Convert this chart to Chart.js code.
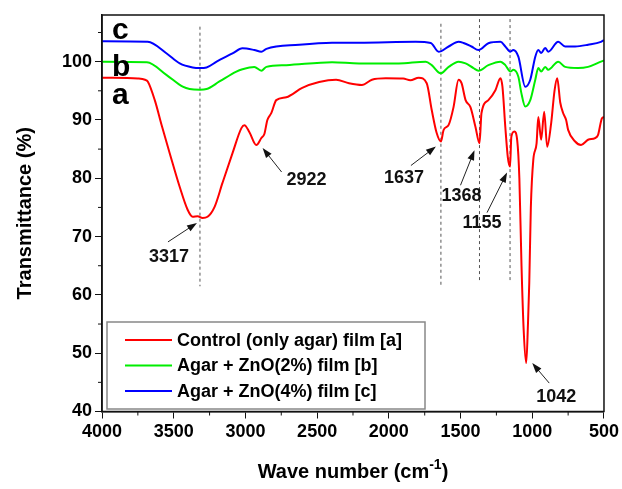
<!DOCTYPE html>
<html>
<head>
<meta charset="utf-8">
<script src="https://cdn.jsdelivr.net/npm/chart.js@4.4.1/dist/chart.umd.min.js"></script>
<style>
  html, body { margin: 0; padding: 0; background: #fff; }
  #wrap { width: 622px; height: 489px; position: relative; }
</style>
</head>
<body>
<div id="wrap"><canvas id="ftir"></canvas></div>
<script>
// wave numbers (cm-1) and transmittance (%)
const waveA = [4000, 3750, 3700, 3681, 3632, 3583, 3528, 3458, 3403, 3368, 3333, 3299, 3264, 3215, 3160, 3090, 3028, 3007, 2972, 2924, 2889, 2868, 2847, 2819, 2785, 2715, 2604, 2486, 2368, 2278, 2188, 2118, 2021, 1900, 1850, 1792, 1736, 1701, 1667, 1637, 1618, 1583, 1549, 1514, 1493, 1465, 1431, 1396, 1368, 1354, 1306, 1257, 1222, 1208, 1188, 1170, 1155, 1146, 1125, 1105, 1090, 1075, 1060, 1042, 1030, 1021, 1010, 993, 970, 958, 938, 917, 896, 868, 845, 826, 805, 785, 764, 750, 701, 660, 611, 562, 542, 514, 500];
const transA = [97.25, 97.1, 96.9, 96.6, 93.4, 89.0, 84.3, 78.5, 74.6, 73.4, 73.5, 73.2, 73.4, 75.1, 79.2, 84.3, 88.6, 89.1, 87.9, 85.7, 86.9, 87.6, 90.0, 91.2, 93.4, 93.9, 95.5, 96.5, 96.9, 96.3, 96.0, 96.9, 97.15, 97.1, 96.8, 97.25, 96.3, 91.7, 87.8, 86.3, 88.3, 89.15, 92.2, 96.9, 96.3, 93.4, 92.2, 88.8, 86.0, 91.2, 93.4, 95.1, 97.15, 95.7, 88.8, 83.5, 82.0, 87.1, 88.0, 86.5, 80.0, 65.0, 54.0, 48.3, 55.0, 62.0, 75.0, 83.1, 86.0, 90.5, 86.6, 91.4, 85.4, 89.5, 95.0, 97.15, 93.0, 91.2, 90.0, 88.3, 86.3, 85.7, 86.6, 86.9, 87.4, 90.3, 90.5];

const waveB = [4000, 3687, 3549, 3437, 3389, 3317, 3271, 3181, 3063, 3021, 2938, 2889, 2854, 2715, 2396, 2208, 1931, 1743, 1701, 1639, 1583, 1514, 1465, 1410, 1375, 1306, 1222, 1188, 1153, 1132, 1097, 1076, 1049, 1014, 979, 958, 938, 910, 889, 819, 771, 681, 611, 521, 500];
const transB = [100.0, 99.9, 97.7, 95.7, 95.3, 95.2, 95.3, 96.6, 98.3, 98.7, 99.1, 98.45, 99.1, 99.4, 99.9, 99.7, 99.7, 100.0, 99.4, 98.0, 99.1, 100.0, 99.7, 98.9, 98.45, 99.4, 100.0, 99.4, 98.3, 98.6, 97.4, 94.6, 92.3, 93.4, 96.9, 98.9, 98.3, 99.1, 98.6, 100.0, 99.1, 98.9, 99.1, 100.0, 100.2];

const waveC = [4000, 3681, 3549, 3458, 3368, 3317, 3271, 3201, 3090, 3021, 2938, 2889, 2854, 2625, 2396, 2208, 1813, 1708, 1653, 1583, 1514, 1479, 1424, 1375, 1306, 1222, 1188, 1153, 1132, 1097, 1049, 1014, 979, 958, 938, 910, 889, 819, 771, 701, 611, 521, 500];
const transC = [103.5, 103.4, 101.4, 99.7, 99.0, 98.9, 99.0, 100.0, 101.4, 102.3, 102.0, 101.7, 102.2, 102.9, 103.25, 103.25, 103.4, 103.2, 101.7, 102.6, 103.4, 103.2, 102.6, 102.0, 103.15, 103.4, 102.6, 101.7, 102.0, 100.85, 95.7, 96.9, 100.85, 102.0, 101.5, 102.35, 101.7, 103.4, 102.6, 102.6, 102.9, 103.4, 103.7];

const seriesLabels = ["Control (only agar) film [a]", "Agar + ZnO(2%) film [b]", "Agar + ZnO(4%) film [c]"];
const seriesColors = ["#ff0000", "#00ee00", "#0000ff"];
const curveLetters = ["a", "b", "c"];

// marked peaks: wave number and transmittance of the red curve there
const peakWave = [3317, 2922, 1637, 1368, 1155, 1042];
const peakTrans = [73.2, 85.7, 86.3, 86.0, 82.0, 48.3];
// dashed guide lines
const guideWave = [3317, 1637, 1368, 1155];
const guideTop = [106, 106.5, 107.3, 107.3];
const guideBottom = [61.5, 61.5, 62.2, 62.2];

const xTicks = [4000, 3500, 3000, 2500, 2000, 1500, 1000, 500];
const yTicks = [40, 50, 60, 70, 80, 90, 100];

const FONT = "'Liberation Sans', Arial, sans-serif";

function toPoints(xs, ys) {
    return xs.map((x, i) => ({ x: x, y: ys[i] }));
}

const datasets = [
    { data: toPoints(waveA, transA) },
    { data: toPoints(waveB, transB) },
    { data: toPoints(waveC, transC) }
].map((d, i) => Object.assign(d, {
    label: seriesLabels[i],
    borderColor: seriesColors[i],
    borderWidth: 2,
    pointRadius: 0,
    cubicInterpolationMode: 'monotone',
    fill: false
}));

guideWave.forEach((w, i) => {
    datasets.push({
        label: 'guide' + w,
        data: [{ x: w, y: guideTop[i] }, { x: w, y: guideBottom[i] }],
        borderColor: '#555',
        borderWidth: 1,
        borderDash: [3, 3],
        pointRadius: 0,
        fill: false
    });
});

// label offsets (px) from each peak: arrow tip, arrow tail, text centre
const annoLayout = [
    { tip: [-3, 5], tail: [-32, 24], text: [-31, 39] },
    { tip: [6, 3], tail: [25, 27], text: [50, 35] },
    { tip: [-5, 5], tail: [-30, 24], text: [-37, 37] },
    { tip: [-5, 7], tail: [-19, 42], text: [-18, 53] },
    { tip: [-3, 6], tail: [-23, 46], text: [-28, 56] },
    { tip: [6, 0], tail: [23, 20], text: [30, 34] }
];

function arrow(ctx, x1, y1, x2, y2) {
    const a = Math.atan2(y2 - y1, x2 - x1);
    ctx.beginPath();
    ctx.moveTo(x1, y1);
    ctx.lineTo(x2 - 6 * Math.cos(a), y2 - 6 * Math.sin(a));
    ctx.stroke();
    ctx.beginPath();
    ctx.moveTo(x2, y2);
    ctx.lineTo(x2 - 10 * Math.cos(a) + 3.5 * Math.sin(a), y2 - 10 * Math.sin(a) - 3.5 * Math.cos(a));
    ctx.lineTo(x2 - 10 * Math.cos(a) - 3.5 * Math.sin(a), y2 - 10 * Math.sin(a) + 3.5 * Math.cos(a));
    ctx.closePath();
    ctx.fill();
}

const decor = {
    id: 'decor',
    afterDraw(chart) {
        const ctx = chart.ctx;
        const area = chart.chartArea;
        const xs = chart.scales.x, ys = chart.scales.y;
        ctx.save();

        // frame
        ctx.strokeStyle = '#111';
        ctx.lineWidth = 1.5;
        ctx.strokeRect(area.left, area.top, area.right - area.left, area.bottom - area.top);

        // minor ticks
        ctx.lineWidth = 1;
        ctx.beginPath();
        for (let v = 45; v <= 105; v += 10) {
            const py = ys.getPixelForValue(v);
            ctx.moveTo(area.left - 4, py);
            ctx.lineTo(area.left, py);
        }
        for (let v = 3750; v > 500; v -= 500) {
            const px = xs.getPixelForValue(v);
            ctx.moveTo(px, area.bottom);
            ctx.lineTo(px, area.bottom + 4);
        }
        ctx.stroke();

        // peak annotations
        ctx.fillStyle = '#111';
        ctx.strokeStyle = '#222';
        ctx.lineWidth = 1;
        ctx.font = 'bold 18px ' + FONT;
        ctx.textAlign = 'center';
        ctx.textBaseline = 'middle';
        peakWave.forEach((w, i) => {
            const px = xs.getPixelForValue(w);
            const py = ys.getPixelForValue(peakTrans[i]);
            const l = annoLayout[i];
            arrow(ctx, px + l.tail[0], py + l.tail[1], px + l.tip[0], py + l.tip[1]);
            ctx.fillText(String(w), px + l.text[0], py + l.text[1]);
        });

        // curve letters
        ctx.font = 'bold 30px ' + FONT;
        ctx.textAlign = 'left';
        ctx.textBaseline = 'alphabetic';
        ctx.fillStyle = '#000';
        const letterBase = [transA[0], transB[0], transC[0]];
        curveLetters.forEach((c, i) => {
            const py = ys.getPixelForValue(letterBase[i]);
            const dy = i === 0 ? 26 : (i === 1 ? 14 : -2);
            ctx.fillText(c, area.left + 10, py + dy);
        });

        // legend box
        const lx = area.left + 5, lw = 318, lh = 87;
        const ly = area.bottom - lh - 2.5;
        ctx.fillStyle = '#fff';
        ctx.fillRect(lx, ly, lw, lh);
        ctx.strokeStyle = '#888';
        ctx.lineWidth = 1.5;
        ctx.strokeRect(lx, ly, lw, lh);
        ctx.font = 'bold 18px ' + FONT;
        ctx.textBaseline = 'middle';
        seriesLabels.forEach((lab, i) => {
            const yy = ly + 18 + i * 25.5;
            ctx.strokeStyle = seriesColors[i];
            ctx.lineWidth = 2;
            ctx.beginPath();
            ctx.moveTo(lx + 18, yy);
            ctx.lineTo(lx + 65, yy);
            ctx.stroke();
            ctx.fillStyle = '#000';
            ctx.fillText(lab, lx + 70, yy + 1);
        });

        // axis titles
        ctx.fillStyle = '#000';
        ctx.font = 'bold 20px ' + FONT;
        ctx.textAlign = 'center';
        ctx.textBaseline = 'middle';
        ctx.save();
        ctx.translate(25, (area.top + area.bottom) / 2);
        ctx.rotate(-Math.PI / 2);
        ctx.fillText('Transmittance (%)', 0, 0);
        ctx.restore();

        const main = 'Wave number (cm', sup = '-1', close = ')';
        ctx.font = 'bold 20px ' + FONT;
        const w1 = ctx.measureText(main).width, w3 = ctx.measureText(close).width;
        ctx.font = 'bold 14px ' + FONT;
        const w2 = ctx.measureText(sup).width;
        let tx = (area.left + area.right) / 2 - (w1 + w2 + w3) / 2;
        const base = 478;
        ctx.textAlign = 'left';
        ctx.textBaseline = 'alphabetic';
        ctx.font = 'bold 20px ' + FONT;
        ctx.fillText(main, tx, base);
        ctx.font = 'bold 14px ' + FONT;
        ctx.fillText(sup, tx + w1, base - 9);
        ctx.font = 'bold 20px ' + FONT;
        ctx.fillText(close, tx + w1 + w2, base);

        ctx.restore();
    }
};

new Chart(document.getElementById('ftir').getContext('2d'), {
    type: 'line',
    data: { datasets: datasets },
    options: {
        responsive: true,
        maintainAspectRatio: false,
        animation: false,
        layout: { padding: { top: 15, right: 16, left: 0, bottom: 0 } },
        plugins: {
            legend: { display: false },
            tooltip: { enabled: false }
        },
        scales: {
            x: {
                type: 'linear',
                reverse: true,
                min: 500,
                max: 4000,
                afterBuildTicks: s => { s.ticks = xTicks.map(v => ({ value: v })); },
                afterFit: s => { s.height = 77.5; },
                grid: { drawOnChartArea: false, tickLength: 7, color: '#111', tickWidth: 1 },
                border: { color: '#111', width: 1.5 },
                ticks: {
                    maxRotation: 0,
                    padding: 3,
                    color: '#000',
                    font: { family: FONT, size: 18, weight: 'bold' },
                    callback: v => String(v)
                }
            },
            y: {
                min: 40,
                max: 108,
                afterBuildTicks: s => { s.ticks = yTicks.map(v => ({ value: v })); },
                afterFit: s => { s.width = 102; },
                grid: { drawOnChartArea: false, tickLength: 7, color: '#111', tickWidth: 1 },
                border: { color: '#111', width: 1.5 },
                ticks: {
                    padding: 3,
                    color: '#000',
                    font: { family: FONT, size: 18, weight: 'bold' },
                    callback: v => String(v)
                }
            }
        }
    },
    plugins: [decor]
});
</script>
</body>
</html>
